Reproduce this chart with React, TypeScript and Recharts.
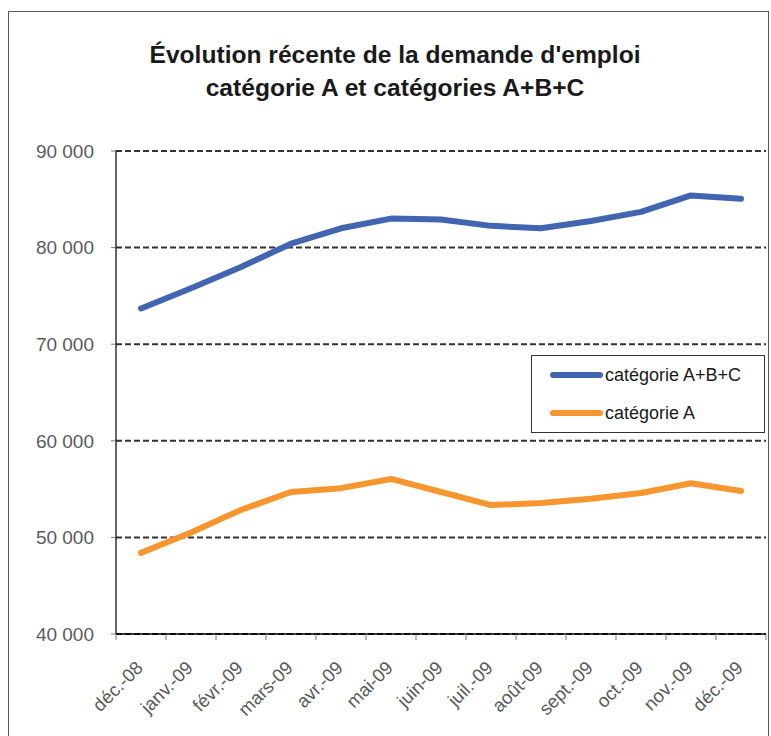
import React from 'react';
import { LineChart, Line, XAxis, YAxis, CartesianGrid } from 'recharts';

const months = ['déc.-08', 'janv.-09', 'févr.-09', 'mars-09', 'avr.-09', 'mai-09', 'juin-09', 'juil.-09', 'août-09', 'sept.-09', 'oct.-09', 'nov.-09', 'déc.-09'];
const abcValues = [73700, 75800, 78000, 80400, 82000, 83000, 82900, 82250, 82000, 82750, 83700, 85400, 85050];
const aValues = [48400, 50500, 52850, 54700, 55100, 56050, 54700, 53350, 53550, 54000, 54600, 55600, 54800];
const yTicks = [40000, 50000, 60000, 70000, 80000, 90000];

const series = [
  { key: 'abc', name: 'catégorie A+B+C', color: '#4165b0' },
  { key: 'a', name: 'catégorie A', color: '#f7962e' },
];

const data = months.map((m, i) => ({ month: m, abc: abcValues[i], a: aValues[i] }));

const FONT = '"Liberation Sans", Arial, sans-serif';

const fmt = (v: number) => `${v / 1000} 000`;

// label at the band centre, tick marks on the band edges (Excel style)
const MonthTick = (props: any) => {
  const { x, y, payload, index, visibleTicksCount, width } = props;
  const half = payload.offset || width / visibleTicksCount / 2;
  return (
    <g>
      <line x1={x - half} y1={y} x2={x - half} y2={y + 6} stroke="#777" />
      {index === visibleTicksCount - 1 && <line x1={x + half} y1={y} x2={x + half} y2={y + 6} stroke="#777" />}
      <g transform={`translate(${x + 3},${y + 35})`}>
        <text x={0} y={0} textAnchor="end" transform="rotate(-45)" fill="#595959" fontSize={18.5} fontFamily={FONT}>
          {payload.value}
        </text>
      </g>
    </g>
  );
};

export default function App() {
  return (
    <div style={{ position: 'absolute', left: 0, top: 0, width: 771, height: 736, overflow: 'hidden', background: '#fff' }}>
      <div style={{ position: 'absolute', left: 8, top: 11, width: 761, height: 740, border: '1.5px solid #555', boxSizing: 'border-box' }} />
      <div
        style={{
          position: 'absolute', left: 0, top: 38, width: 790, textAlign: 'center',
          fontFamily: FONT, fontWeight: 'bold', fontSize: 24.6, lineHeight: '33px', color: '#1a1a1a',
        }}
      >
        Évolution récente de la demande d'emploi<br />catégorie A et catégories A+B+C
      </div>
      <div style={{ position: 'absolute', left: 0, top: 0 }}>
        <LineChart width={771} height={736} data={data} margin={{ top: 151, right: 5, left: 0, bottom: 2 }}>
          <CartesianGrid horizontal vertical={false} stroke="#333" strokeWidth={2} strokeDasharray="6 3" />
          <XAxis
            dataKey="month" scale="band" height={100} interval={0} tickSize={0} tickMargin={0}
            axisLine={{ stroke: '#000', strokeWidth: 1.5 }} tickLine={false} tick={<MonthTick />}
          />
          <YAxis
            domain={[40000, 90000]} ticks={yTicks} width={116} tickSize={5} tickMargin={17}
            tickFormatter={fmt} axisLine={{ stroke: '#000', strokeWidth: 1.2 }} tickLine={{ stroke: '#777' }}
            tick={{ fill: '#5a5a5a', fontSize: 19, fontFamily: FONT }}
          />
          {series.map((s) => (
            <Line
              key={s.key} type="linear" dataKey={s.key} name={s.name} stroke={s.color}
              strokeWidth={6} strokeLinecap="round" strokeLinejoin="round" dot={false} isAnimationActive={false}
            />
          ))}
        </LineChart>
      </div>
      <div
        style={{
          position: 'absolute', left: 531, top: 355, width: 234, height: 78, border: '1px solid #333',
          boxSizing: 'border-box', background: '#fff', fontFamily: FONT, fontSize: 18, color: '#1a1a1a',
        }}
      >
        {series.map((s, i) => (
          <div key={s.key} style={{ position: 'absolute', left: 18, top: 8 + i * 38, display: 'flex', alignItems: 'center', height: 22 }}>
            <span style={{ display: 'inline-block', width: 53, height: 6, borderRadius: 3, background: s.color, marginRight: 2 }} />
            <span>{s.name}</span>
          </div>
        ))}
      </div>
    </div>
  );
}
